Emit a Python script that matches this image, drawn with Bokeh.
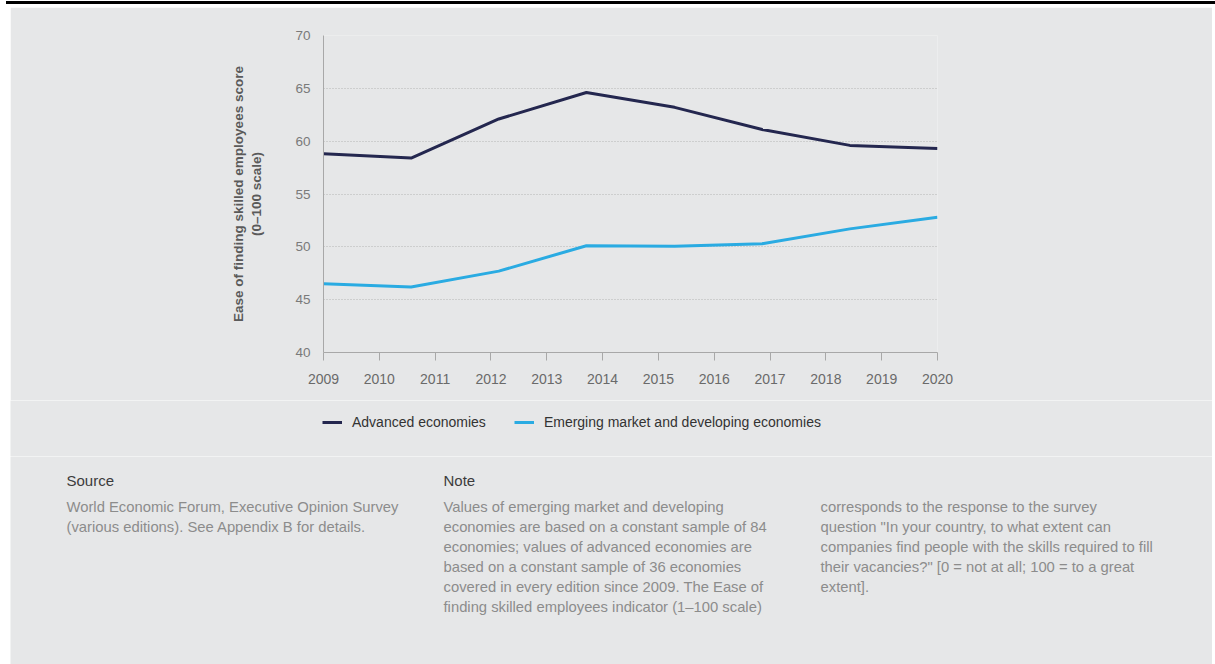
from bokeh.plotting import figure
from bokeh.models import (ColumnDataSource, Legend, LegendItem, Label, FixedTicker,
                          Range1d, Spacer)
from bokeh.layouts import column
from bokeh.embed import file_html
from bokeh.resources import INLINE

# ---- data ----
edition_pos = [2009.0, 2010.57, 2012.14, 2013.71, 2015.29, 2016.86, 2018.43, 2020.0]
advanced = [58.8, 58.4, 62.1, 64.6, 63.2, 61.1, 59.6, 59.3]
emerging = [46.5, 46.2, 47.7, 50.1, 50.05, 50.3, 51.7, 52.8]
x_ticks = [2009, 2010, 2011, 2012, 2013, 2014, 2015, 2016, 2017, 2018, 2019, 2020]
y_ticks = [40, 45, 50, 55, 60, 65, 70]
series_names = ["Advanced economies", "Emerging market and developing economies"]

source_title = "Source"
source_lines = ["World Economic Forum, Executive Opinion Survey",
                "(various editions). See Appendix B for details."]
note_title = "Note"
note_lines_1 = ["Values of emerging market and developing",
                "economies are based on a constant sample of 84",
                "economies; values of advanced economies are",
                "based on a constant sample of 36 economies",
                "covered in every edition since 2009. The Ease of",
                "finding skilled employees indicator (1\u2013100 scale)"]
note_lines_2 = ["corresponds to the response to the survey",
                "question \"In your country, to what extent can",
                "companies find people with the skills required to fill",
                "their vacancies?\" [0 = not at all; 100 = to a great",
                "extent]."]

# ---- style / layout (page pixels) ----
W, H = 1215, 664
GX0, GX1, GY0 = 10, 1212, 7          # grey panel extent
CH_BOTTOM = 400                      # bottom of the chart figure
LG_BOTTOM = 456                      # bottom of the legend strip
FL, FR, FT, FB = 323, 937, 35, 352   # plot frame edges
BG = "#e6e7e8"
NAVY = "#24274f"
BLUE = "#2aabe2"
FONT = "Liberation Sans"
PW = GX1 - GX0


def strip_figure(height, top_margin=0):
    fig = figure(width=PW, height=height, output_backend="svg", toolbar_location=None,
                 margin=(top_margin, W - GX1, 0, GX0), frame_align=False,
                 x_range=Range1d(0, PW), y_range=Range1d(height, 0),
                 min_border=0, min_border_left=0, min_border_right=0,
                 min_border_top=0, min_border_bottom=0)
    fig.axis.visible = False
    fig.grid.visible = False
    fig.background_fill_color = BG
    fig.border_fill_color = BG
    fig.outline_line_color = None
    return fig


bar = Spacer(width=W - 6, height=3, margin=(1, 0, 0, 6),
             styles={"background-color": "black"})

# ---- chart ----
p = figure(width=PW, height=CH_BOTTOM - GY0, output_backend="svg",
           toolbar_location=None, margin=(GY0 - 4, W - GX1, 0, GX0),
           frame_align=False,
           x_range=Range1d(x_ticks[0], x_ticks[-1]),
           y_range=Range1d(y_ticks[0], y_ticks[-1]),
           min_border_left=FL - GX0, min_border_right=GX1 - FR,
           min_border_top=FT - GY0, min_border_bottom=CH_BOTTOM - FB)
p.background_fill_color = BG
p.border_fill_color = BG
p.outline_line_color = None

src = ColumnDataSource(dict(x=edition_pos, adv=advanced, emg=emerging))
p.line("x", "adv", source=src, line_color=NAVY, line_width=3)
p.line("x", "emg", source=src, line_color=BLUE, line_width=3)

xa = p.xaxis[0]
xa.ticker = FixedTicker(ticks=x_ticks)
xa.axis_line_color = "#a8a8a8"
xa.major_tick_line_color = "#a8a8a8"
xa.major_tick_out = 8
xa.major_tick_in = 0
xa.minor_tick_line_color = None
xa.major_label_text_font = FONT
xa.major_label_text_font_size = "14px"
xa.major_label_text_color = "#6a6a6a"
xa.major_label_standoff = 13

ya = p.yaxis[0]
ya.ticker = FixedTicker(ticks=y_ticks)
ya.axis_line_color = "#a8a8a8"
ya.major_tick_line_color = None
ya.major_tick_out = 0
ya.major_tick_in = 0
ya.minor_tick_line_color = None
ya.major_label_text_font = FONT
ya.major_label_text_font_size = "13.5px"
ya.major_label_text_color = "#7a7a7a"
ya.major_label_standoff = 13
ya.axis_label = "Ease of finding skilled employees score\n(0\u2013100 scale)"
ya.axis_label_text_font = FONT
ya.axis_label_text_font_size = "13.5px"
ya.axis_label_text_font_style = "bold"
ya.axis_label_text_color = "#5a5a5a"
ya.axis_label_standoff = 28

p.xgrid.grid_line_color = None
p.ygrid.ticker = FixedTicker(ticks=y_ticks[1:])
p.ygrid.grid_line_color = "#b4b4b4"
p.ygrid.grid_line_dash = "1 2"
p.ygrid.grid_line_width = 1

# ---- legend strip (legend keys use the same series, which fall outside this strip's view) ----
lg = strip_figure(LG_BOTTOM - CH_BOTTOM)
k1 = lg.line("x", "adv", source=src, line_color=NAVY, line_width=3)
k2 = lg.line("x", "emg", source=src, line_color=BLUE, line_width=3)
legend = Legend(items=[LegendItem(label=series_names[0], renderers=[k1]),
                       LegendItem(label=series_names[1], renderers=[k2])],
                orientation="horizontal", location=(322 - GX0, LG_BOTTOM - 432),
                background_fill_alpha=0, border_line_color=None,
                padding=0, margin=0, spacing=28, label_standoff=10,
                glyph_width=20, glyph_height=20, label_height=20,
                label_text_font=FONT, label_text_font_size="14px",
                label_text_color="#333333")
lg.add_layout(legend, "center")

# ---- footnote panel ----
f = strip_figure(H - LG_BOTTOM)

def add_text(x, y, txt, color, size="14.8px"):
    f.add_layout(Label(x=x - GX0, y=y - LG_BOTTOM, text=txt,
                       text_font=FONT, text_font_size=size, text_color=color,
                       text_baseline="middle", text_align="left"))

add_text(66, 480, source_title, "#3c3c3c", "15px")
for i, t in enumerate(source_lines):
    add_text(66, 506 + 20 * i, t, "#8c8c8c")
add_text(443, 480, note_title, "#3c3c3c", "15px")
for i, t in enumerate(note_lines_1):
    add_text(443, 506 + 20 * i, t, "#8c8c8c")
for i, t in enumerate(note_lines_2):
    add_text(820, 506 + 20 * i, t, "#8c8c8c")

layout = column(bar, p, lg, f, spacing=0)
open("out.html", "w").write(file_html(layout, INLINE))
